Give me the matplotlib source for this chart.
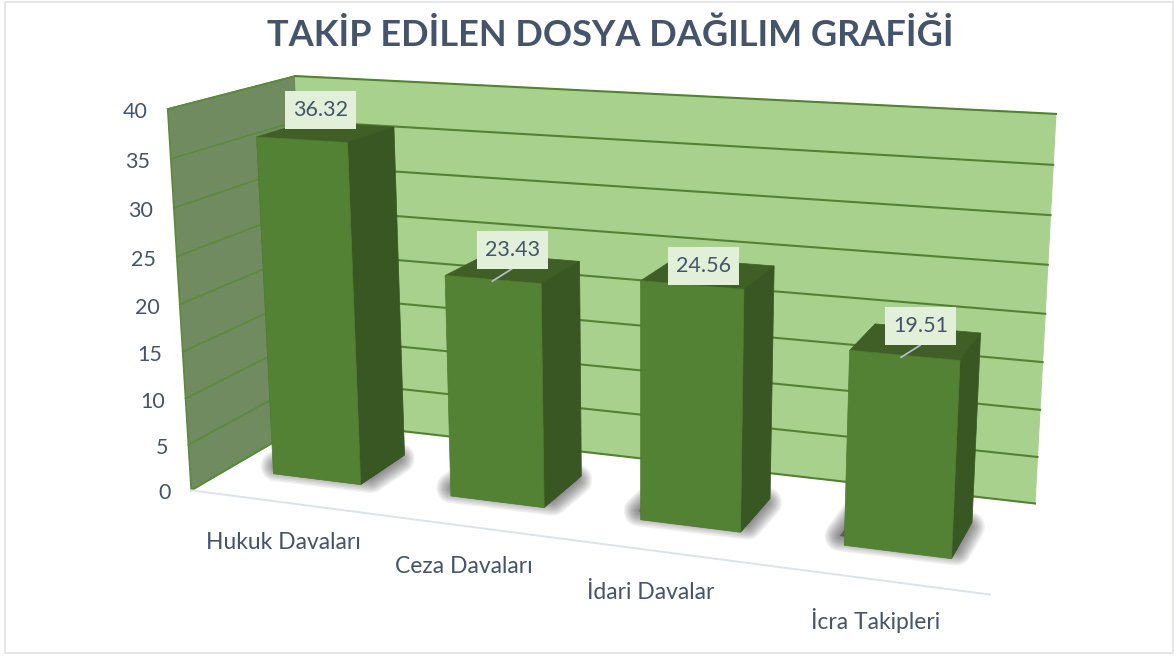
#%%
import numpy as np
import matplotlib
matplotlib.use("Agg")
import matplotlib.pyplot as plt
from matplotlib.patches import Polygon, Rectangle

#%%
categories = ["Hukuk Davaları", "Ceza Davaları", "İdari Davalar", "İcra Takipleri"]
values = [36.32, 23.43, 24.56, 19.51]
yticks = [0, 5, 10, 15, 20, 25, 30, 35, 40]
title = "TAKİP EDİLEN DOSYA DAĞILIM GRAFİĞİ"
ymax = 40

# scene corners on screen: (x, value share, depth) -> pixel
scene = [(0, 0, 0), (1, 0, 0), (0, 0, 1), (1, 0, 1), (0, 1, 0), (0, 1, 1), (1, 1, 1)]
screen = [(191, 490), (990, 595), (311, 421), (1035, 503), (168, 109), (295, 76), (1056, 114)]

bar_half = 0.0625
bar_shift = 0.0025
bar_z = (0.295, 0.70)
label_offset = [(-3.5, -22), (1, -18), (-3, -7), (7, -15)]
cat_offset = [(4, 41), (-1, 41), (-13, 41), (-1, 41)]
leader = [False, True, False, True]

text_col = "#44546A"
plt.rcParams["font.family"] = ["Lato", "DejaVu Sans"]

#%%
# projection matrix from the corners (DLT)
A = []
b = []
for (X, Y, Z), (u, v) in zip(scene, screen):
    A.append([X, Y, Z, 1, 0, 0, 0, 0, -u * X, -u * Y, -u * Z])
    A.append([0, 0, 0, 0, X, Y, Z, 1, -v * X, -v * Y, -v * Z])
    b += [u, v]
m = np.linalg.lstsq(np.array(A, float), np.array(b, float), rcond=None)[0]
P = np.append(m, 1).reshape(3, 4)


def pj(x, val, z):
    p = P @ np.array([x, val / ymax, z, 1.0])
    return p[0] / p[2], p[1] / p[2]


#%%
fig = plt.figure(figsize=(11.74, 6.57), dpi=100)
ax = fig.add_axes([0, 0, 1, 1])
ax.set_xlim(0, 1174)
ax.set_ylim(657, 0)
ax.axis("off")

ax.add_patch(Rectangle((5, 1.5), 1168, 651, fc="white", ec="#E4E6EB", lw=1.4, zorder=0))
ax.text(610, 35, title, ha="center", va="center", fontsize=26, fontweight="bold", color=text_col)

# walls
ax.add_patch(Polygon([pj(0, 0, 0), pj(0, ymax, 0), pj(0, ymax, 1), pj(0, 0, 1)], fc="#6F8B5F", ec="#5B8A3A", lw=1.2, zorder=1))
ax.add_patch(Polygon([pj(0, 0, 1), pj(0, ymax, 1), pj(1, ymax, 1), pj(1, 0, 1)], fc="#A9D18E", ec="#A9D18E", lw=0.8, zorder=1))
for t in yticks:
    p0, p1, p2 = pj(0, t, 0), pj(0, t, 1), pj(1, t, 1)
    ax.plot([p0[0], p1[0]], [p0[1], p1[1]], color="#5B8A3A", lw=1.2, zorder=2)
    ax.plot([p1[0], p2[0]], [p1[1], p2[1]], color="#548235", lw=1.5, zorder=2)
    ax.text(p0[0] - 20.5, p0[1] + 3, str(t), ha="right", va="center", fontsize=15.5, color=text_col)

# floor front edge
f0, f1 = pj(0, 0, 0), pj(1, 0, 0)
ax.plot([f0[0], f1[0]], [f0[1], f1[1]], color="#DCE3EC", lw=1.4, zorder=2)

for i, val in enumerate(values):
    c = (i + 0.5) / len(values)
    x0, x1 = c + bar_shift - bar_half, c + bar_shift + bar_half
    z0, z1 = bar_z

    # soft shadow on the floor
    sx0 = x0 - 0.012
    foot = [pj(sx0, 0, z0 + 0.09), pj(x1, 0, z0 + 0.09), pj(x1, 0, z1 - 0.05), pj(sx0, 0, z1 - 0.05)]
    for lw in np.arange(22, 1, -2):
        ax.add_patch(Polygon(foot, fc="#3A3A3A", ec="#3A3A3A", lw=lw, alpha=0.07, joinstyle="round", zorder=3))

    ax.add_patch(Polygon([pj(x0, val, z0), pj(x1, val, z0), pj(x1, val, z1), pj(x0, val, z1)], fc="#3F5F26", ec="#3F5F26", lw=0.5, zorder=4))
    ax.add_patch(Polygon([pj(x1, 0, z0), pj(x1, val, z0), pj(x1, val, z1), pj(x1, 0, z1)], fc="#385723", ec="#385723", lw=0.5, zorder=4))
    ax.add_patch(Polygon([pj(x0, 0, z0), pj(x1, 0, z0), pj(x1, val, z0), pj(x0, val, z0)], fc="#548235", ec="#4E7A31", lw=0.5, zorder=4))

    # value label
    tx, ty = pj(c, val, (z0 + z1) / 2)
    lx, ly = tx + label_offset[i][0], ty + label_offset[i][1]
    if leader[i]:
        ax.plot([lx - 1, lx - 20], [ly + 19, ly + 31], color="#B4BCC8", lw=1.3, zorder=5)
    ax.add_patch(Rectangle((lx - 35.5, ly - 19), 71, 38, fc="#E2F0D9", ec="none", zorder=5))
    ax.text(lx, ly, "{:.2f}".format(val), ha="center", va="center", fontsize=15.5, color=text_col, zorder=6)

    # category label
    bx, by = pj(c, 0, 0)
    ax.text(bx + cat_offset[i][0], by + cat_offset[i][1], categories[i], ha="center", va="center", fontsize=16.5, color=text_col)

plt.savefig("out.png", dpi=100)
plt.close()
